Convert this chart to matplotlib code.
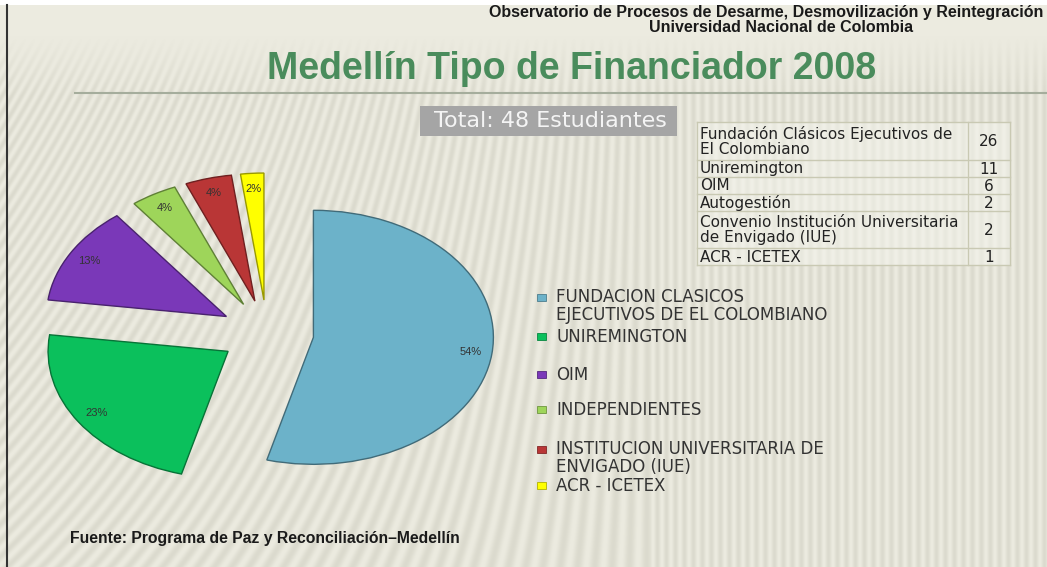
import matplotlib
matplotlib.use('Agg')
import matplotlib.pyplot as plt
import matplotlib.colors as mcolors
from matplotlib.patches import Rectangle
import numpy as np

# ---------------- data ----------------
legend_labels = ["FUNDACION CLASICOS\nEJECUTIVOS DE EL COLOMBIANO",
                 "UNIREMINGTON",
                 "OIM",
                 "INDEPENDIENTES",
                 "INSTITUCION UNIVERSITARIA DE\nENVIGADO (IUE)",
                 "ACR - ICETEX"]
counts = [26, 11, 6, 2, 2, 1]
table_names = ["Fundación Clásicos Ejecutivos de\nEl Colombiano",
               "Uniremington",
               "OIM",
               "Autogestión",
               "Convenio Institución Universitaria\nde Envigado (IUE)",
               "ACR - ICETEX"]
table_values = [26, 11, 6, 2, 2, 1]
total_students = 48
title = "Medellín Tipo de Financiador 2008"
header1 = "Observatorio de Procesos de Desarme, Desmovilización y Reintegración"
header2 = "Universidad Nacional de Colombia"
footer = "Fuente: Programa de Paz y Reconciliación–Medellín"

colors = ["#6cb2c9", "#0bc05c", "#7a38b8", "#9ed55a", "#b93636", "#ffff00"]

W, H = 1047, 567
FONT = "Liberation Sans"
WIDE = "DejaVu Sans"

fig = plt.figure(figsize=(W / 100, H / 100), dpi=100)
fig.patch.set_facecolor("white")

# background axes in pixel coordinates
bg = fig.add_axes([0, 0, 1, 1])
bg.set_xlim(0, W)
bg.set_ylim(H, 0)
bg.axis("off")

# striped backdrop
yy, xx = np.mgrid[0:H, 0:W]
slant = np.clip(1 - xx / 650.0, 0, 1) * 0.55
phase = (xx + yy * slant) / 9.0
stripe = 0.5 + 0.5 * np.cos(2 * np.pi * phase)
fade = np.clip((yy - 35) / 60.0, 0, 1)
base = np.array(mcolors.to_rgb("#ecebe0"))
dark = np.array(mcolors.to_rgb("#d6d5c8"))
amt = (stripe * fade)[..., None] * 0.75
img = base * (1 - amt) + dark * amt
img[:5, :, :] = 1.0
bg.imshow(img, extent=[0, W, H, 0], zorder=0, interpolation="bilinear", aspect="auto")
bg.set_xlim(0, W)
bg.set_ylim(H, 0)
bg.plot([7, 7], [5, H], color="#333333", lw=1.5, zorder=1)

# header
bg.text(1043, 13, header1, ha="right", va="center", fontsize=11.5, fontweight="bold",
        family=FONT, color="#1a1a1a", zorder=3)
bg.text(781, 28, header2, ha="center", va="center", fontsize=11.5, fontweight="bold",
        family=FONT, color="#1a1a1a", zorder=3)

# title
bg.text(572, 69, title, ha="center", va="center", fontsize=27, fontweight="bold",
        family=FONT, color="#4a8c5c", zorder=3)
bg.plot([75, W], [93, 93], color="#a5ad9c", lw=1.5, zorder=2)

# total box
bg.add_patch(Rectangle((420, 106), 257, 30, facecolor="#a5a5a5", edgecolor="none", zorder=2))
bg.text(550, 121, f"Total: {total_students} Estudiantes", ha="center", va="center",
        fontsize=16, family=WIDE, color="#f4f4f4", zorder=3)

# table
col_x = [697, 968, 1010]
row_h = [38, 17, 17, 17, 37, 17]
y0 = 122
bg.add_patch(Rectangle((col_x[0], y0), col_x[2] - col_x[0], sum(row_h),
                       facecolor="#f4f4ec", alpha=0.55, edgecolor="none", zorder=2))
line_c = "#c9c9b3"
y = y0
for name, val, h in zip(table_names, table_values, row_h):
    bg.plot([col_x[0], col_x[2]], [y, y], color=line_c, lw=1, zorder=3)
    bg.text(col_x[0] + 3, y + h / 2 + 0.5, name, ha="left", va="center", fontsize=11.0,
            family=WIDE, color="#222222", linespacing=0.95, zorder=4)
    bg.text((col_x[1] + col_x[2]) / 2, y + h / 2 + 1, str(val), ha="center", va="center",
            fontsize=11, family=WIDE, color="#222222", zorder=4)
    y += h
bg.plot([col_x[0], col_x[2]], [y, y], color=line_c, lw=1, zorder=3)
for cx in col_x:
    bg.plot([cx, cx], [y0, y], color=line_c, lw=1, zorder=3)

# legend (manual)
leg_y = [306, 337, 375, 410, 458, 486]
for lab, col, ly in zip(legend_labels, colors, leg_y):
    nlines = lab.count("\n") + 1
    top = ly - (nlines - 1) * 8.5
    bg.add_patch(Rectangle((537, top - 4), 9, 7, facecolor=col,
                           edgecolor=mcolors.to_hex(np.array(mcolors.to_rgb(col)) * 0.7),
                           lw=0.6, zorder=3))
    bg.text(556, ly, lab, ha="left", va="center", fontsize=12, family=WIDE,
            color="#333333", linespacing=0.95, zorder=3)

# footer
bg.text(70, 538, footer, ha="left", va="center", fontsize=11.3, fontweight="bold",
        family=FONT, color="#1a1a1a", zorder=3)

# pie
rx, ry = 180, 127
cxp, cyp = 267, 333
span = 1.45
pw, ph = 2 * span * rx, 2 * span * ry
pax = fig.add_axes([(cxp - pw / 2) / W, (H - cyp - ph / 2) / H, pw / W, ph / H])
pax.patch.set_alpha(0)
edge_cols = [mcolors.to_hex(np.array(mcolors.to_rgb(c)) * 0.6) for c in colors]
wedges, texts, autotexts = pax.pie(
    counts, colors=colors, startangle=90, counterclock=False,
    explode=[0.26] * len(counts), pctdistance=0.88,
    autopct=lambda p: f"{int(p + 0.5)}%",
    wedgeprops=dict(linewidth=1.0),
    textprops=dict(fontsize=8, color="#333333", family=FONT))
for w, ec in zip(wedges, edge_cols):
    w.set_edgecolor(ec)
pax.set_aspect("auto")
pax.set_xlim(-span, span)
pax.set_ylim(-span, span)
pax.axis("off")

fig.savefig("out.png", dpi=100, facecolor=fig.get_facecolor())
